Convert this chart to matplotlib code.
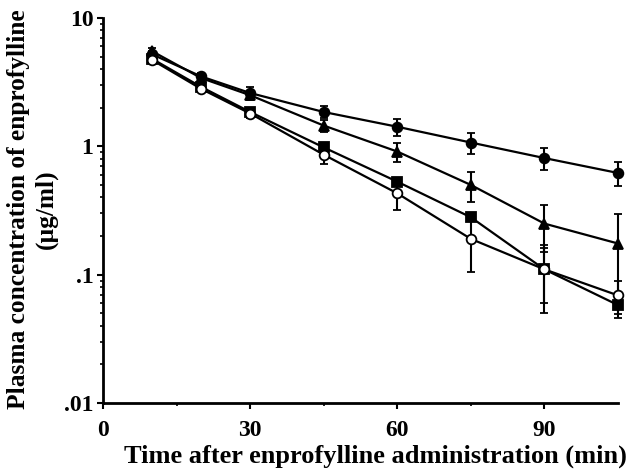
import matplotlib.pyplot as plt
from matplotlib.ticker import FixedLocator, LogLocator, NullFormatter

# Tiempos de muestreo (min)
tiempos = [10, 20, 30, 45, 60, 75, 90, 105]

# Concentraciones medias (ug/ml) y desviaciones
circulo = [5.2, 3.5, 2.6, 1.85, 1.42, 1.07, 0.81, 0.62]
circulo_err = [0.3, 0.25, 0.3, 0.2, 0.22, 0.2, 0.16, 0.13]

triangulo = [5.5, 3.4, 2.5, 1.45, 0.91, 0.50, 0.25, 0.175]
triangulo_err = [0.3, 0.2, 0.2, 0.15, 0.16, 0.13, 0.10, 0.12]

cuadrado = [4.8, 2.9, 1.85, 0.98, 0.53, 0.28, 0.11, 0.058]
cuadrado_err = [0.2, 0.15, 0.1, 0.05, 0.03, 0.02, 0.05, 0.012]

abierto = [4.7, 2.8, 1.8, 0.86, 0.43, 0.19, 0.11, 0.069]
abierto_err = [0.2, 0.15, 0.15, 0.13, 0.11, 0.085, 0.06, 0.02]

x_ticks = [0, 30, 60, 90]
y_ticks = [0.01, 0.1, 1, 10]
y_labels = ['.01', '.1', '1', '10']

plt.rcParams['font.family'] = 'Liberation Serif'
plt.rcParams['font.weight'] = 'bold'

fig = plt.figure(figsize=(6.29, 4.72), dpi=100)
ax = fig.add_axes([0.164, 0.146, 0.8185, 0.816])

series = [
    (circulo, circulo_err, 'o', 'black'),
    (triangulo, triangulo_err, '^', 'black'),
    (cuadrado, cuadrado_err, 's', 'black'),
    (abierto, abierto_err, 'o', 'white'),
]
for valores, errores, marcador, relleno in series:
    ax.errorbar(tiempos, valores, yerr=errores, color='black', lw=1.6,
                marker=marcador, markersize=7, markerfacecolor=relleno,
                markeredgecolor='black', markeredgewidth=1.3,
                elinewidth=1.5, capsize=3, capthick=1.5, clip_on=False, zorder=3)

ax.set_yscale('log')
ax.set_ylim(0.01, 10)
ax.set_xlim(0, 105)

ax.xaxis.set_major_locator(FixedLocator(x_ticks))
ax.xaxis.set_minor_locator(FixedLocator([15, 45, 75]))
ax.yaxis.set_major_locator(FixedLocator(y_ticks))
ax.set_yticklabels(y_labels)
ax.yaxis.set_minor_locator(LogLocator(base=10, subs=range(2, 10)))
ax.yaxis.set_minor_formatter(NullFormatter())

ax.tick_params(axis='both', which='major', labelsize=17, length=4, width=1.5, pad=3)
ax.tick_params(axis='both', which='minor', length=2.5, width=1.2)
ax.tick_params(axis='x', pad=8)

for lado in ['top', 'right']:
    ax.spines[lado].set_visible(False)
for lado in ['left', 'bottom']:
    ax.spines[lado].set_linewidth(2)

# Etiquetas de los ejes
fig.text(0.997, 1 - 463 / 472, 'Time after enprofylline administration (min)',
         fontsize=19, fontweight='bold', ha='right', va='baseline')
fig.text(19 / 629, 1 - 209 / 472, 'Plasma concentration of enprofylline',
         fontsize=18.3, fontweight='bold', rotation=90, ha='center', va='center')
fig.text(46 / 629, 1 - 209 / 472, '(µg/ml)',
         fontsize=18.3, fontweight='bold', rotation=90, ha='center', va='center')

fig.savefig('out.png', dpi=100)
